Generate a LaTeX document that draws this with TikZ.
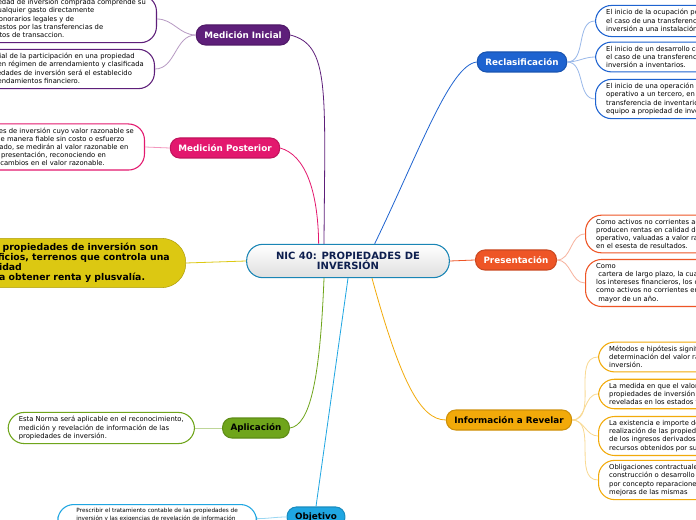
\documentclass[tikz,border=0pt]{standalone}
\usepackage{fontspec}
\setmainfont{DejaVu Sans}
\usepackage{xcolor}
\usetikzlibrary{positioning}
\definecolor{cInicial}{HTML}{5E1F7A}
\definecolor{cPosterior}{HTML}{E3186E}
\definecolor{cReclas}{HTML}{1E63D0}
\definecolor{cPresent}{HTML}{EE5526}
\definecolor{cRevelar}{HTML}{F2AA0A}
\definecolor{cAplic}{HTML}{6FA51B}
\definecolor{cObjet}{HTML}{1FA6E2}
\definecolor{cDefin}{HTML}{DCC812}
\definecolor{cNavy}{HTML}{0E1F4F}
\tikzset{
  rama/.style={draw=#1!85!black, fill=#1, rounded corners=7pt, thick, text=white,
    font=\fontsize{6.6}{7}\selectfont\bfseries, minimum height=15pt, inner xsep=6pt}, % nodos de rama
  hoja/.style={draw=#1, fill=white, rounded corners=12pt, thick, align=left,
    font=\fontsize{5.1}{6.1}\selectfont, inner xsep=8pt, inner ysep=3pt}, % textos
  rlinea/.style={#1, semithick}, % conectores centrales
  hlinea/.style={#1!45, semithick} % conectores de hojas
}
\begin{document}
\begin{tikzpicture}[x=0.75pt,y=-0.75pt]
\clip (0,0) rectangle (696,520);
\fill[white] (0,0) rectangle (696,520);

%Centro
\node[draw=cObjet!80!black, thick, top color=white, bottom color=gray!25, rounded corners=12pt,
  minimum width=152pt, minimum height=25pt, align=center, text=cNavy,
  font=\fontsize{7.5}{8}\selectfont\bfseries] (nic) at (348,261)
  {NIC 40: PROPIEDADES DE\\INVERSIÓN};

%Ramas
\node[rama=cInicial] (ini) at (243,35) {Medición Inicial};
\node[rama=cPosterior] (pos) at (225,148) {Medición Posterior};
\node[rama=cReclas] (rec) at (522,62) {Reclasificación};
\node[rama=cPresent] (pre) at (516,260) {Presentación};
\node[rama=cRevelar, text=black] (rev) at (509,420) {Información a Revelar};
\node[rama=cAplic, text=black] (apl) at (256,428) {Aplicación};
\node[rama=cObjet, text=black] (obj) at (316,517) {Objetivo};
\node[draw=cDefin!80!black, fill=cDefin, rounded corners=18pt, minimum height=37pt, align=left,
  font=\fontsize{7}{7.6}\selectfont\bfseries, anchor=east, inner xsep=12pt] (def) at (186,263)
  {Las propiedades de inversión son\\
   edificios, terrenos que controla una\\
   entidad\\
   para obtener renta y plusvalía.};

%Hojas
\node[hoja=cInicial, anchor=east] (ini1) at (157,19)
  {El costo de una propiedad de inversión comprada comprende su\\
   precio de compra y cualquier gasto directamente\\
   atribuible, tal como honorarios legales y de\\
   intermediación, impuestos por las transferencias de\\
   propiedad y otros costos de transaccion.};
\node[hoja=cInicial, anchor=east] (ini2) at (155,69)
  {El costo inicial de la participación en una propiedad\\
   mantenida en régimen de arrendamiento y clasificada\\
   como propiedades de inversión será el establecido\\
   para los arrendamientos financiero.};
\node[hoja=cPosterior, anchor=east] (pos1) at (145,147)
  {Las propiedades de inversión cuyo valor razonable se\\
   pueda medir de manera fiable sin costo o esfuerzo\\
   desproporcionado, se medirán al valor razonable en\\
   cada fecha de presentación, reconociendo en\\
   resultados los cambios en el valor razonable.};
\node[hoja=cReclas, anchor=west] (rec1) at (595,21)
  {El inicio de la ocupación por parte del propietario, en\\
   el caso de una transferencia de una propiedad de\\
   inversión a una instalación ocupada por el dueño.};
\node[hoja=cReclas, anchor=west] (rec2) at (595,57)
  {El inicio de un desarrollo con intención de venta, en\\
   el caso de una transferencia de una propiedad de\\
   inversión a inventarios.};
\node[hoja=cReclas, anchor=west] (rec3) at (595,99)
  {El inicio de una operación de arrendamiento\\
   operativo a un tercero, en el caso de una\\
   transferencia de inventarios o propiedad, planta y\\
   equipo a propiedad de inversión.};
\node[hoja=cPresent, anchor=west] (pre1) at (585,234)
  {Como activos no corrientes aquellas propiedades que\\
   producen rentas en calidad de arrendamiento\\
   operativo, valuadas a valor razonable con cambios\\
   en el esesta de resultados.};
\node[hoja=cPresent, anchor=west] (pre2) at (585,283)
  {Como\\
   \ cartera de largo plazo, la cual genera rentas por\\
   los intereses financieros, los cuales se presentan\\
   como activos no corrientes en un plazo\\
   \ mayor de un año.};
\node[hoja=cRevelar, anchor=west] (rev1) at (598,357)
  {Métodos e hipótesis significativas aplicados en la\\
   determinación del valor razonable de la propiedad de\\
   inversión.};
\node[hoja=cRevelar, anchor=west] (rev2) at (598,394)
  {La medida en que el valor razonable de las\\
   propiedades de inversión y sus variaciones son\\
   reveladas en los estados financieros.};
\node[hoja=cRevelar, anchor=west] (rev3) at (598,436)
  {La existencia e importe de las restricciones a la\\
   realización de las propiedades de inversión o al cobro\\
   de los ingresos derivados de las mismas o de los\\
   recursos obtenidos por su disposición.};
\node[hoja=cRevelar, anchor=west] (rev4) at (598,480)
  {Obligaciones contractuales para adquisición,\\
   construcción o desarrollo de propiedades de inversión,\\
   por concepto reparaciones, mantenimiento o\\
   mejoras de las mismas};
\node[hoja=cAplic, anchor=east] (apl1) at (195,428)
  {Esta Norma será aplicable en el reconocimiento,\\
   medición y revelación de información de las\\
   propiedades de inversión.};
\node[hoja=cObjet, anchor=north east, font=\fontsize{4.3}{5.5}\selectfont, inner xsep=14pt] (obj1) at (257,504)
  {Prescribir el tratamiento contable de las propiedades de\\
   inversión y las exigencias de revelación de información\\
   correspondientes.};

%Conectores centrales
\draw[rlinea=cInicial] ([xshift=-18pt]nic.north) .. controls (325,90) and (330,45) .. (ini.east);
\draw[rlinea=cPosterior] ([xshift=-22pt]nic.north) .. controls (318,190) and (305,155) .. (pos.east);
\draw[rlinea=cReclas] ([xshift=20pt]nic.north) .. controls (420,150) and (450,65) .. (rec.west);
\draw[rlinea=cPresent] (nic.east) -- (pre.west);
\draw[rlinea=cRevelar] ([xshift=18pt]nic.south) .. controls (400,380) and (420,420) .. (rev.west);
\draw[rlinea=cAplic] ([xshift=-18pt]nic.south) .. controls (320,380) and (310,425) .. (apl.east);
\draw[rlinea=cObjet] (nic.south) -- (obj.north);
\draw[rlinea=cDefin] (nic.west) -- (def.east);

%Conectores de hojas
\foreach \h in {ini1,ini2} \draw[hlinea=cInicial] (ini.west) to[out=180,in=0] (\h.east);
\draw[hlinea=cPosterior] (pos.west) -- (pos1.east);
\foreach \h in {rec1,rec2,rec3} \draw[hlinea=cReclas] (rec.east) to[out=0,in=180] (\h.west);
\foreach \h in {pre1,pre2} \draw[hlinea=cPresent] (pre.east) to[out=0,in=180] (\h.west);
\foreach \h in {rev1,rev2,rev3,rev4} \draw[hlinea=cRevelar] (rev.east) to[out=0,in=180] (\h.west);
\draw[hlinea=cAplic] (apl.west) -- (apl1.east);
\draw[hlinea=cObjet] (obj.west) to[out=180,in=0] (obj1.east);
\end{tikzpicture}
\end{document}
